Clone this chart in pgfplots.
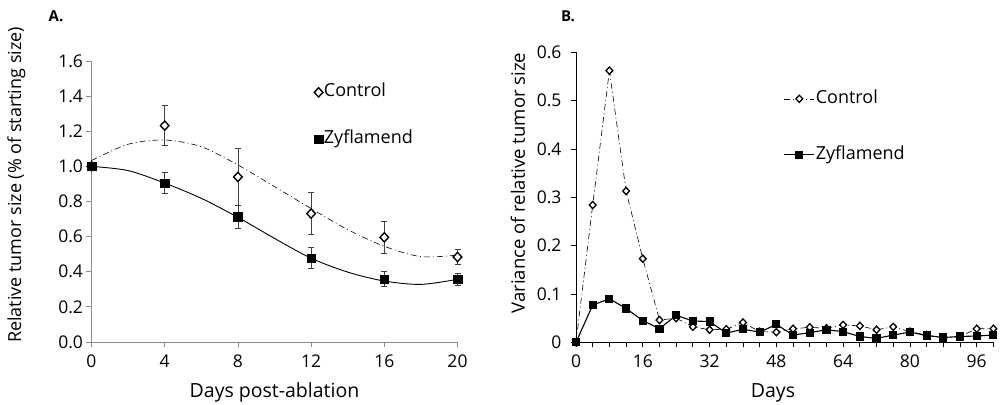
\documentclass[border=0pt]{standalone}
\usepackage{pgfplots}
\pgfplotsset{compat=1.18}
\usepackage{fontspec}
\setmainfont{Open Sans}
\definecolor{axgray}{HTML}{8C8C8C}
\definecolor{errgray}{HTML}{404040}
\begin{document}
\begin{tikzpicture}
\path[use as bounding box] (0pt,0pt) rectangle (1000pt,404pt);
\node[font=\fontsize{15}{15}\selectfont\bfseries] at (56pt,388pt) {A.};
\node[font=\fontsize{15}{15}\selectfont\bfseries] at (568pt,388pt) {B.};
% ---------------- Panel A
\begin{axis}[
  at={(91.5pt,62pt)}, anchor=south west, scale only axis,
  width=366pt, height=281pt,
  xmin=0, xmax=20, ymin=0, ymax=1.6,
  axis lines=left, axis line style={-, axgray, line width=0.8pt},
  xtick={0,4,...,20}, ytick={0,0.2,...,1.6},
  tick align=outside, major tick length=5pt,
  tick style={axgray, line width=0.8pt},
  /pgf/number format/assume math mode=true,
  ticklabel style={font=\fontsize{17.5}{17.5}\selectfont},
  xticklabel style={yshift=-4pt},
  yticklabel style={/pgf/number format/fixed, /pgf/number format/fixed zerofill, /pgf/number format/precision=1},
  xlabel={Days post-ablation}, ylabel={Relative tumor size (\% of starting size)},
  every axis x label/.style={at={(axis description cs:0.5,-0.18)}, anchor=center, font=\fontsize{19.5}{19.5}\selectfont},
  every axis y label/.style={at={(axis description cs:-0.205,0.559)}, anchor=center, rotate=90, font=\fontsize{18}{18}\selectfont},
  clip=false,
  legend style={at={(0.6,0.93)}, anchor=north west, draw=none, fill=none,
    font=\fontsize{18}{18}\selectfont, row sep=28pt,
    nodes={inner sep=1pt, text height=13pt, text depth=4pt}},
  legend cell align=left,
  legend image code/.code={\draw[#1] plot coordinates {(4pt,0pt)};},
]
\addplot[forget plot, black, line width=0.6pt, dash pattern=on 6pt off 3pt on 1pt off 3pt, smooth]
  coordinates {(0,1.033) (2,1.126) (4,1.150) (6,1.112) (8,1.008) (10,0.885) (12,0.760) (14,0.640) (16,0.545) (18,0.486) (20,0.495)};
\addplot[forget plot, black, line width=0.9pt, smooth]
  coordinates {(0,1.0) (2,0.976) (4,0.905) (6,0.818) (8,0.71) (10,0.59) (12,0.477) (14,0.398) (16,0.347) (18,0.328) (20,0.357)};
\addplot[only marks, mark=diamond*, mark options={fill=white, draw=black, line width=1.4pt, xscale=1.25}, mark size=4.6pt,
  error bars/.cd, y dir=both, y explicit,
  error bar style={errgray, line width=0.8pt},
  error mark options={rotate=90, mark size=3pt, errgray, line width=0.8pt}]
  coordinates {(0,1.0) +- (0,0) (4,1.232) +- (0,0.114) (8,0.94) +- (0,0.16) (12,0.731) +- (0,0.12) (16,0.596) +- (0,0.089) (20,0.484) +- (0,0.045)};
\addlegendentry{Control}
\addplot[only marks, mark=square*, mark options={fill=black, draw=black}, mark size=4.3pt,
  error bars/.cd, y dir=both, y explicit,
  error bar style={errgray, line width=0.8pt},
  error mark options={rotate=90, mark size=3pt, errgray, line width=0.8pt}]
  coordinates {(0,1.0) +- (0,0) (4,0.905) +- (0,0.059) (8,0.712) +- (0,0.065) (12,0.477) +- (0,0.06) (16,0.357) +- (0,0.043) (20,0.357) +- (0,0.036)};
\addlegendentry{Zyflamend}
\end{axis}
% ---------------- Panel B
\begin{axis}[
  at={(576pt,61.7pt)}, anchor=south west, scale only axis,
  width=417.4pt, height=290pt,
  xmin=0, xmax=100, ymin=0, ymax=0.6,
  axis lines=left, axis line style={-, black, line width=0.8pt},
  xtick={0,16,...,96}, minor xtick={4,8,...,100}, ytick={0,0.1,...,0.6},
  tick align=outside, major tick length=5pt, minor tick length=5pt,
  tick style={black, line width=0.8pt},
  /pgf/number format/assume math mode=true,
  ticklabel style={font=\fontsize{17.5}{17.5}\selectfont},
  xticklabel style={yshift=-4pt},
  yticklabel style={/pgf/number format/fixed, /pgf/number format/precision=1, xshift=-6pt},
  xlabel={Days}, ylabel={Variance of relative tumor size},
  every axis x label/.style={at={(axis description cs:0.472,-0.175)}, anchor=center, font=\fontsize{19.5}{19.5}\selectfont},
  every axis y label/.style={at={(axis description cs:-0.139,0.549)}, anchor=center, rotate=90, font=\fontsize{18.5}{18.5}\selectfont},
  clip=false,
  legend style={at={(0.49,0.88)}, anchor=north west, draw=none, fill=none,
    font=\fontsize{18}{18}\selectfont, row sep=37pt,
    nodes={inner sep=1pt, text height=13pt, text depth=4pt}},
  legend cell align=left,
  legend image code/.code={\draw[mark repeat=2, mark phase=2, #1] plot coordinates {(0pt,0pt) (15pt,0pt) (30pt,0pt)};},
]
\addplot[black, line width=0.6pt, dash pattern=on 6pt off 3pt on 1pt off 3pt,
  mark=diamond*, mark options={solid, fill=white, draw=black, line width=1.3pt, xscale=1.25}, mark size=3.6pt]
  coordinates {(0,0) (4,0.284) (8,0.562) (12,0.313) (16,0.173) (20,0.046) (24,0.050) (28,0.032) (32,0.026) (36,0.027) (40,0.041) (44,0.022) (48,0.021) (52,0.028) (56,0.031) (60,0.029) (64,0.036) (68,0.034) (72,0.026) (76,0.032) (80,0.022) (84,0.015) (88,0.009) (92,0.012) (96,0.028) (100,0.028)};
\addlegendentry{Control}
\addplot[black, line width=1.1pt, mark=square*, mark options={fill=black, draw=black}, mark size=3.5pt]
  coordinates {(0,0) (4,0.077) (8,0.090) (12,0.070) (16,0.045) (20,0.028) (24,0.056) (28,0.044) (32,0.043) (36,0.019) (40,0.027) (44,0.021) (48,0.037) (52,0.015) (56,0.020) (60,0.026) (64,0.022) (68,0.012) (72,0.008) (76,0.015) (80,0.021) (84,0.014) (88,0.010) (92,0.012) (96,0.013) (100,0.015)};
\addlegendentry{Zyflamend}
\end{axis}
\end{tikzpicture}
\end{document}
